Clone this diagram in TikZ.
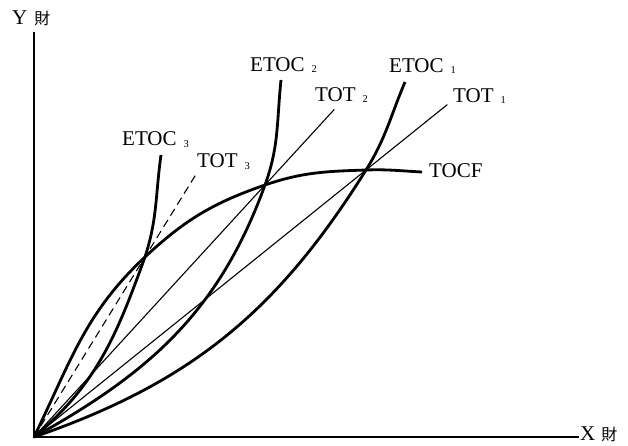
\documentclass[tikz,border=0pt]{standalone}
\usepackage{fontspec}
\setmainfont{Liberation Serif}
\newfontfamily\cjk{Noto Sans CJK JP}
\usetikzlibrary{calc}
\newcommand{\lsub}[1]{\hspace{7pt}\raisebox{-1pt}{\fontsize{10.5}{10.5}\selectfont #1}}
\begin{document}
\begin{tikzpicture}[x=1pt,y=1pt,
  axis/.style={line width=2.2pt},
  curve/.style={line width=2.8pt},
  tot/.style={line width=1.1pt},
  lbl/.style={anchor=base west, inner sep=0pt, font=\fontsize{21}{21}\selectfont}
]
\useasboundingbox (0,0) rectangle (628,445);
% key points
\coordinate (O) at (34,8);
\coordinate (ytop) at (34,413);
\coordinate (xend) at (579,8);
\coordinate (A3) at (145,188);
\coordinate (A2) at (265,260);
\coordinate (A1) at (366,275);
\coordinate (T) at (422,273);
\coordinate (E3) at (161,290);
\coordinate (E2) at (281,365);
\coordinate (E1) at (405,363);
\coordinate (T1) at ($(O)!1.245!(A1)$);
\coordinate (T2) at ($(O)!1.30!(A2)$);
\coordinate (T3) at ($(O)!1.47!(A3)$);
% axes
\draw[axis] (ytop) -- (O) -- (xend);
% TOT lines
\draw[tot] (O) -- (T1);
\draw[tot] (O) -- (T2);
\draw[tot, dash pattern=on 8pt off 5pt] (O) -- (T3);
% TOCF
\draw[curve] (O) to[out=64,in=223] (A3) to[out=43,in=199] (A2)
  to[out=19,in=182] (A1) to[out=2,in=177] (T);
% ETOC curves
\draw[curve] (O) to[out=40,in=250] (A3) to[out=72,in=262] (E3);
\draw[curve] (O) to[out=29,in=250] (A2) to[out=70,in=264] (E2);
\draw[curve] (O) to[out=19,in=238] (A1) to[out=58,in=247] (E1);
% labels
\node[lbl] (yl) at (12,420) {Y\hspace{7pt}{\cjk\fontsize{16}{16}\selectfont 財}};
\node[lbl] (xl) at (580,5) {X\hspace{6pt}{\cjk\fontsize{16}{16}\selectfont 財}};
\node[lbl] (l3) at (122,299) {ETOC\lsub{3}};
\node[lbl] (t3) at (197,277) {TOT\lsub{3}};
\node[lbl] (l2) at (250,373) {ETOC\lsub{2}};
\node[lbl] (t2) at (315,343) {TOT\lsub{2}};
\node[lbl] (l1) at (389,372) {ETOC\lsub{1}};
\node[lbl] (t1) at (453,342) {TOT\lsub{1}};
\node[lbl] (tc) at (429,268) {TOCF};
\end{tikzpicture}
\end{document}
